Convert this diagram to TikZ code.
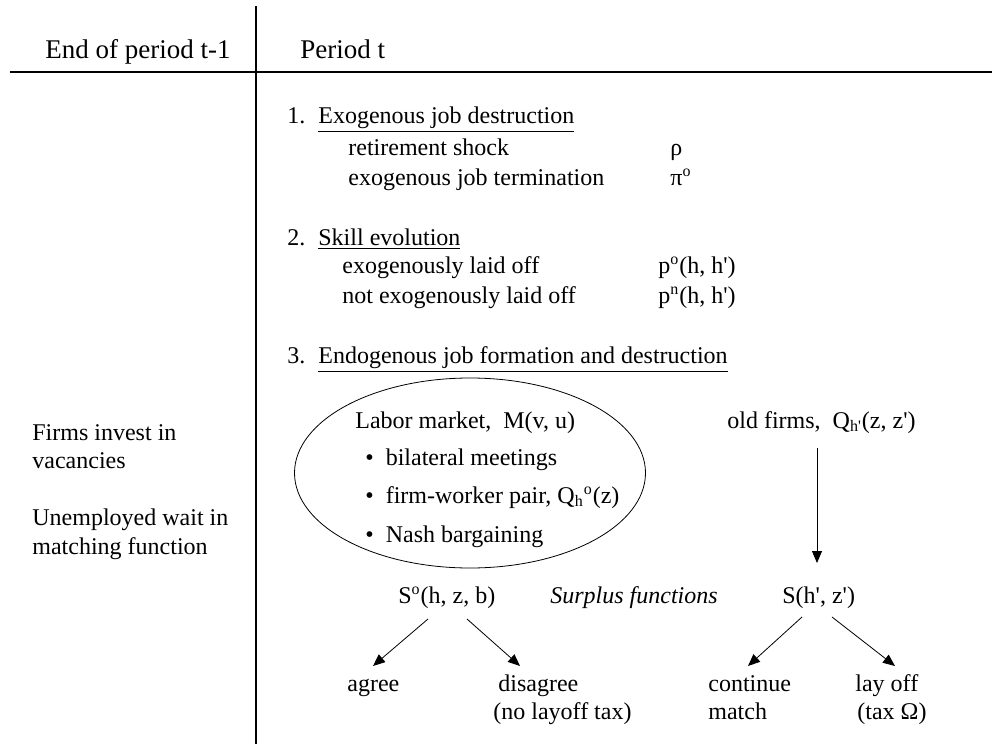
\documentclass[tikz,border=0pt]{standalone}
\usepackage{fontspec}
\setmainfont{Liberation Serif}
\usetikzlibrary{arrows.meta,shapes.geometric}
\newcommand{\prm}{\textquotesingle}
\begin{document}
\begin{tikzpicture}[x=0.5pt,y=-0.5pt,
    txt/.style={anchor=base west,inner sep=0pt,font=\fontsize{12}{14}\selectfont},
    head/.style={anchor=base west,inner sep=0pt,font=\fontsize{13.5}{16}\selectfont},
    >={Triangle[length=6pt,width=5pt]}]
  \useasboundingbox (0,0) rectangle (992,744);
  % time axis
  \coordinate (T) at (256,6);
  \coordinate (B) at (256,744);
  \coordinate (L) at (10,72);
  \coordinate (R) at (992,72);
  \draw[line width=1pt] (T) -- (B);
  \draw[line width=1pt] (L) -- (R);
  \node[head] (H0) at (45,58) {End of period t-1};
  \node[head] (H1) at (300,58) {Period t};
  % stage 1
  \node[txt] (N1) at (287,123) {1.};
  \node[txt] (S1) at (318,123) {\underline{Exogenous job destruction}};
  \node[txt] (S1a) at (348,155) {retirement shock};
  \node[txt] (S1b) at (348,185) {exogenous job termination};
  \node[txt] (P1a) at (670,155) {ρ};
  \node[txt] (P1b) at (670,185) {π\textsuperscript{o}};
  % stage 2
  \node[txt] (N2) at (287,245) {2.};
  \node[txt] (S2) at (318,245) {\underline{Skill evolution}};
  \node[txt] (S2a) at (342,273) {exogenously laid off};
  \node[txt] (S2b) at (342,303) {not exogenously laid off};
  \node[txt] (P2a) at (658,273) {p\textsuperscript{o}(h, h\prm)};
  \node[txt] (P2b) at (658,303) {p\textsuperscript{n}(h, h\prm)};
  % stage 3
  \node[txt] (N3) at (287,363) {3.};
  \node[txt] (S3) at (318,363) {\underline{Endogenous job formation and destruction}};
  \node[draw,ellipse,minimum width=175.5pt,minimum height=95pt,inner sep=0pt] (market) at (470,473) {};
  \node[txt] (M0) at (355,428) {Labor market,\ \ M(v, u)};
  \node[txt] (M1) at (365,465) {\textbullet\ \ bilateral meetings};
  \node[txt] (M2) at (365,503) {\textbullet\ \ firm-worker pair, Q\textsubscript{h}\textsuperscript{o}(z)};
  \node[txt] (M3) at (365,542) {\textbullet\ \ Nash bargaining};
  \node[txt] (oldf) at (727,428) {old firms,\ \ Q\textsubscript{h\prm}(z, z\prm)};
  \node[txt] (so) at (398,603) {S\textsuperscript{o}(h, z, b)};
  \node[txt] (surp) at (550,603) {\textit{Surplus functions}};
  \node[txt] (sh) at (782,603) {S(h\prm, z\prm)};
  \node[txt] (agree) at (347,691) {agree};
  \node[txt] (disagree) at (498,691) {disagree};
  \node[txt] (notax) at (493,719) {(no layoff tax)};
  \node[txt] (cont) at (708,691) {continue};
  \node[txt] (match) at (708,719) {match};
  \node[txt] (layoff) at (855,691) {lay off};
  \node[txt] (tax) at (857,719) {(tax Ω)};
  % end of period t-1
  \node[txt] (F1) at (32,440) {Firms invest in};
  \node[txt] (F2) at (32,468) {vacancies};
  \node[txt] (U1) at (32,525) {Unemployed wait in};
  \node[txt] (U2) at (32,554) {matching function};
  % arrows
  \draw[->] ([xshift=45pt,yshift=-10pt]oldf.base west) -- ([xshift=17.5pt,yshift=20pt]sh.base west);
  \draw[->] ([xshift=15pt,yshift=-8pt]so.base west) -- ([xshift=13pt,yshift=12.5pt]agree.base west);
  \draw[->] ([xshift=34.5pt,yshift=-8pt]so.base west) -- ([xshift=11pt,yshift=12.5pt]disagree.base west);
  \draw[->] ([xshift=10pt,yshift=-7pt]sh.base west) -- ([xshift=20pt,yshift=12.5pt]cont.base west);
  \draw[->] ([xshift=25pt,yshift=-7pt]sh.base west) -- ([xshift=20pt,yshift=12.5pt]layoff.base west);
\end{tikzpicture}
\end{document}
